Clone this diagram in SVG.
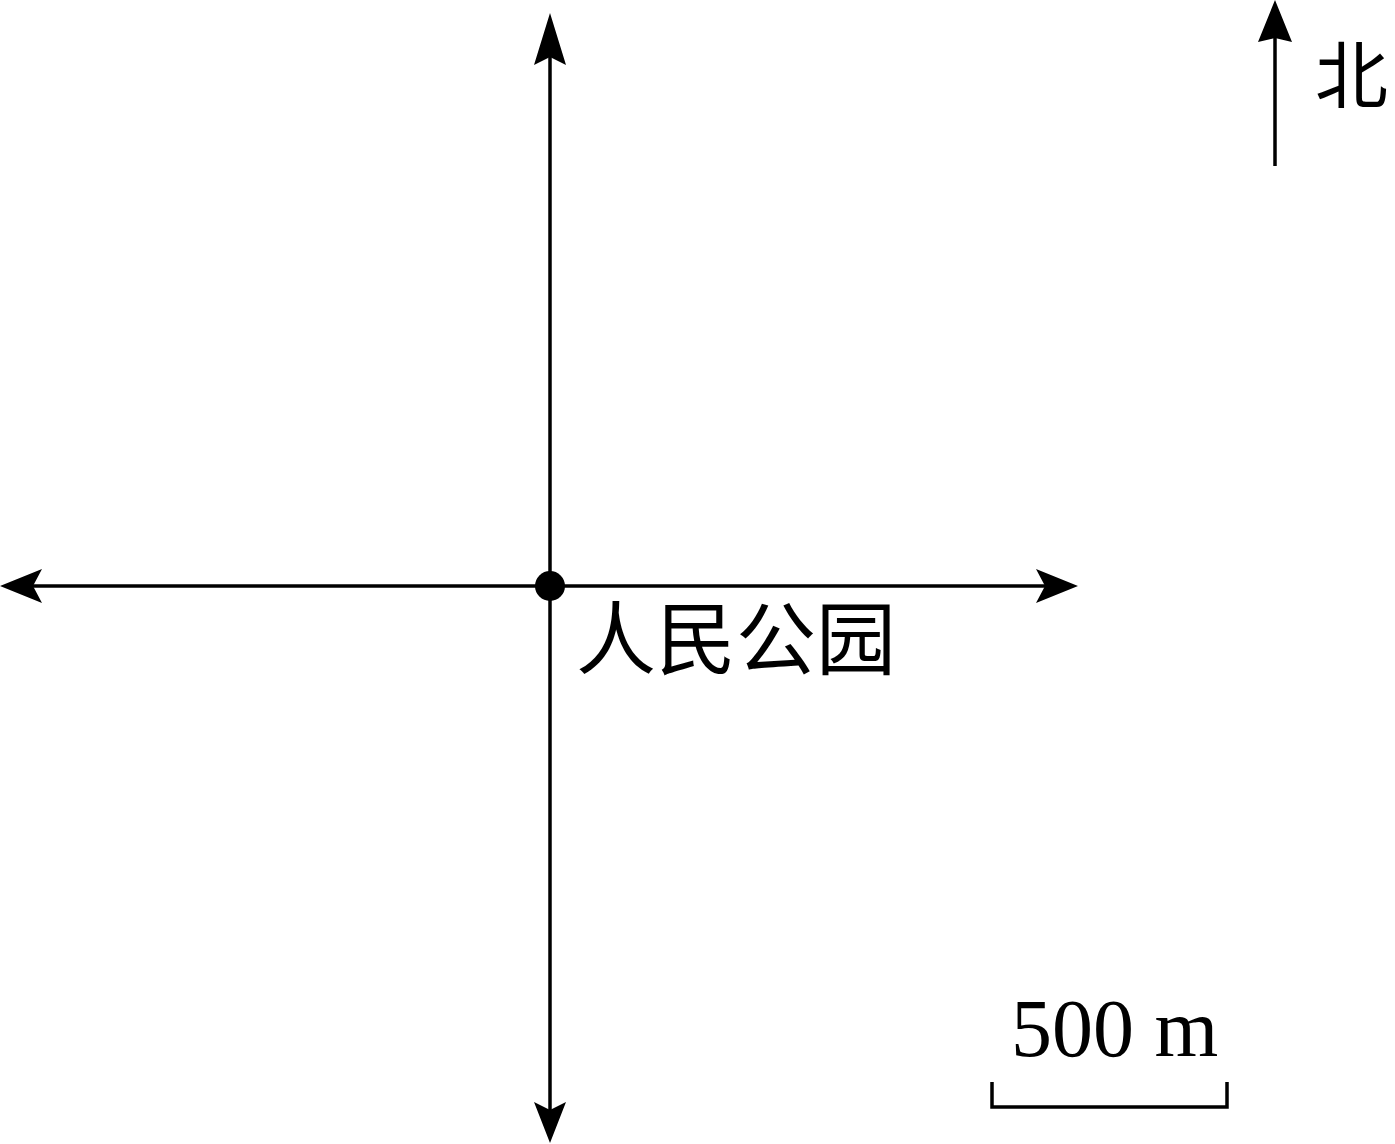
<svg xmlns="http://www.w3.org/2000/svg" width="1395" height="1144" viewBox="0 0 1395 1144">
<style>
.ln{stroke:#000;stroke-width:3.5;fill:none}
.ah{fill:#000}
.cjk{font-family:"Noto Sans CJK SC",sans-serif;fill:#000}
.lat{font-family:"Liberation Serif",serif;fill:#000}
</style>
<rect width="1395" height="1144" fill="#fff"/>
<g id="connectors">
<line class="ln" x1="550" y1="40" x2="550" y2="1120"/>
<line class="ln" x1="20" y1="586" x2="1060" y2="586"/>
<path class="ah" d="M550,13 L566,65 L550,57 L534,65 Z"/>
<path class="ah" d="M550,1143 L566,1102 L550,1110 L534,1102 Z"/>
<path class="ah" d="M0,586 L42,569 L33,586 L42,603 Z"/>
<path class="ah" d="M1078,586 L1036,569 L1045,586 L1036,603 Z"/>
</g>
<g id="park">
<circle cx="550" cy="586" r="15" fill="#000"/>
<text class="cjk" x="576" y="668" font-size="80">人民公园</text>
</g>
<g id="north">
<line class="ln" x1="1275" y1="166" x2="1275" y2="30"/>
<path class="ah" d="M1275,0 L1292,42 L1275,38 L1258,42 Z"/>
<text class="cjk" x="1315" y="102" font-size="73">北</text>
</g>
<g id="scale">
<path class="ln" d="M992,1082 V1107 H1227 V1082"/>
<text class="lat" x="1011" y="1056" font-size="82">500 m</text>
</g>
</svg>
